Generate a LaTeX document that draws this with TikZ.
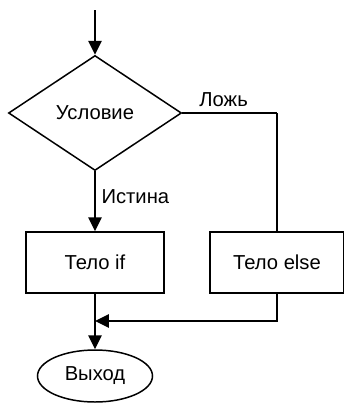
\documentclass[tikz,border=0pt]{standalone}
\usepackage{fontspec}
\setmainfont{Liberation Sans}
\usetikzlibrary{shapes.geometric,positioning,arrows.meta}

\begin{document}
\begin{tikzpicture}[>={Triangle[length=0.28cm,width=0.27cm]},line width=0.85pt,on grid,auto,
  font=\fontsize{11.5}{14}\selectfont,
  block/.style={draw,rectangle,minimum height=1.22cm,inner sep=0pt}]
\useasboundingbox (-1.9,2.26) rectangle (4.98,-5.82);
\node[diamond,draw,minimum width=3.46cm,minimum height=2.3cm,inner sep=0pt](q_c){Условие};
\node[block,minimum width=2.76cm](q_if)[below=2.99cm of q_c]{Тело if};
\node[block,minimum width=2.68cm](q_else)[right=3.64cm of q_if]{Тело else};
\node[ellipse,draw,minimum width=2.3cm,minimum height=1.04cm,inner sep=0pt](q_out)[below=2.27cm of q_if]{Выход};
\node[coordinate](q_in)[above=2.06cm of q_c]{};
\node[coordinate](q_1)[right=3.64cm of q_c]{};
\node[coordinate](q_2)[below=1.17cm of q_if]{};
\node[coordinate](q_3)[below=1.17cm of q_else]{};
\draw[->] (q_in) -- (q_c.north);
\draw (q_c.east) -- (q_1) node[midway,above,xshift=-0.12cm] {Ложь};
\draw (q_1) -- (q_else.north);
\path[->](q_c) edge node[pos=0.42,right] {Истина} (q_if);
\draw[->] (q_else.south) -- (q_3) -- (q_2);
\draw[->] (q_if) -- (q_out);
\end{tikzpicture}
\end{document}
